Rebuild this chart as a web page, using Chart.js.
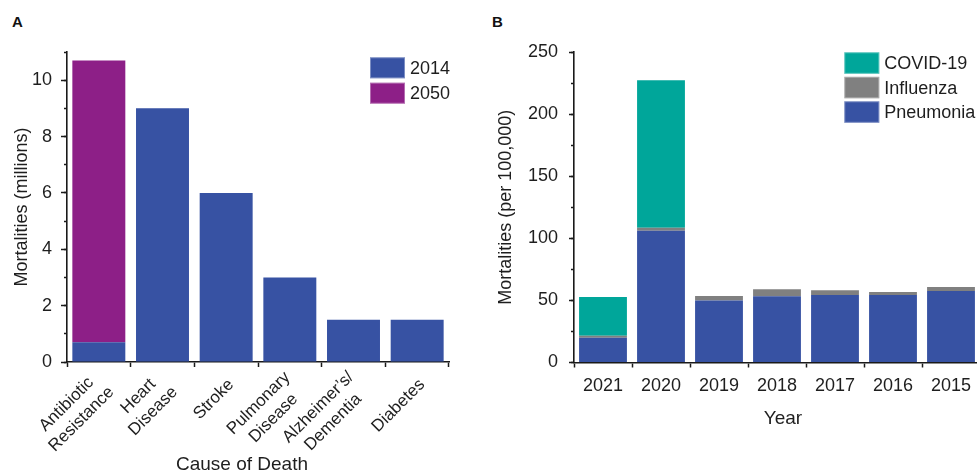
<!DOCTYPE html>
<html>
<head>
<meta charset="utf-8">
<script src="https://cdn.jsdelivr.net/npm/chart.js@4.4.1/dist/chart.umd.min.js"></script>
<style>
  html, body { margin: 0; padding: 0; background: #fff; }
  body { width: 977px; height: 475px; overflow: hidden; position: relative; font-family: "Liberation Sans", Arial, sans-serif; }
  .tag { position: absolute; font-weight: bold; font-size: 15px; line-height: 15px; color: #111; }
  canvas { position: absolute; top: 0; }
</style>
</head>
<body>
<div class="tag" style="left:12px;top:14px">A</div>
<div class="tag" style="left:492px;top:14px">B</div>
<canvas id="chartA" width="490" height="475" style="left:0"></canvas>
<canvas id="chartB" width="490" height="475" style="left:490px"></canvas>
<script>
// ---- Panel A: global deaths by cause (millions) ----
const causes = [["Antibiotic", "Resistance"], ["Heart", "Disease"], ["Stroke"], ["Pulmonary", "Disease"], ["Alzheimer’s/", "Dementia"], ["Diabetes"]];
const deaths2014 = [0.7, 9, 6, 3, 1.5, 1.5];
const deaths2050 = [10, null, null, null, null, null];
const yLabelsA = [0, 2, 4, 6, 8, 10];

// ---- Panel B: US mortality per 100,000 by year ----
const years = ["2021", "2020", "2019", "2018", "2017", "2016", "2015"];
const pneumonia = [20, 106, 50, 53.3, 54.4, 54.4, 57.6];
const influenza = [1.6, 2.5, 3.6, 5.7, 3.8, 2.4, 3.2];
const covid19 = [31.2, 118.7, null, null, null, null, null];
const yLabelsB = [0, 50, 100, 150, 200, 250];

const FONT = '"Liberation Sans", Arial, sans-serif';
const INK = '#1e1e1e';
const AXIS = '#1a1a1a';
const BLUE = '#3752a3', PURPLE = '#8d1f87', TEAL = '#00a69a', GREY = '#808080';

Chart.defaults.font.family = FONT;
Chart.defaults.color = INK;

// Legend with square swatches drawn inside the plot area
const boxLegend = {
  id: 'boxLegend',
  afterDraw(chart, args, o) {
    if (!o || !o.order) return;
    const ctx = chart.ctx;
    ctx.save();
    ctx.font = o.size + 'px ' + FONT;
    ctx.textBaseline = 'middle';
    ctx.textAlign = 'left';
    o.order.forEach((di, k) => {
      const ds = chart.data.datasets[di];
      const y = o.top + k * o.pitch;
      ctx.fillStyle = ds.backgroundColor;
      ctx.fillRect(o.left, y, o.boxW, o.boxH);
      ctx.strokeStyle = 'rgba(255,255,255,0.35)';
      ctx.lineWidth = 1;
      ctx.strokeRect(o.left + 0.5, y + 0.5, o.boxW - 1, o.boxH - 1);
      ctx.fillStyle = INK;
      ctx.fillText(ds.label, o.left + o.boxW + o.gap, y + o.boxH / 2 + 1);
    });
    ctx.restore();
  }
};

// Horizontal axis title placed relative to the plot centre
const xTitle = {
  id: 'xTitle',
  afterDraw(chart, args, o) {
    if (!o || !o.text) return;
    const ctx = chart.ctx, ca = chart.chartArea;
    ctx.save();
    ctx.font = o.size + 'px ' + FONT;
    ctx.fillStyle = INK;
    ctx.textAlign = 'center';
    ctx.textBaseline = 'middle';
    ctx.fillText(o.text, (ca.left + ca.right) / 2 + o.dx, o.y);
    ctx.restore();
  }
};

// Diagonal two-line category labels, lines centred on each other
const slantLabels = {
  id: 'slantLabels',
  afterDraw(chart, args, o) {
    if (!o || !o.size) return;
    const ctx = chart.ctx, xs = chart.scales.x;
    ctx.save();
    ctx.font = o.size + 'px ' + FONT;
    ctx.fillStyle = INK;
    ctx.textAlign = 'center';
    ctx.textBaseline = 'middle';
    chart.data.labels.forEach((lines, i) => {
      const px = xs.getPixelForTick(i);
      const w = Math.max(...lines.map(l => ctx.measureText(l).width));
      ctx.save();
      ctx.translate(px + o.dx, xs.top + o.dy);
      ctx.rotate(-Math.PI / 4);
      lines.forEach((l, j) => ctx.fillText(l, -w / 2, (j - (lines.length - 1) / 2) * o.lineHeight));
      ctx.restore();
    });
    ctx.restore();
  }
};

Chart.register(boxLegend, xTitle, slantLabels);

function axisGrid(len) {
  return { display: true, drawOnChartArea: false, drawTicks: true, tickLength: len, tickColor: AXIS, tickWidth: 1.5 };
}
const border = { display: true, color: AXIS, width: 1.6 };

// ---------- Chart A ----------
new Chart(document.getElementById('chartA'), {
  type: 'bar',
  data: {
    labels: causes,
    datasets: [
      { label: '2014', data: deaths2014, backgroundColor: BLUE, borderWidth: 0, barPercentage: 0.832, categoryPercentage: 1 },
      { label: '2050', data: deaths2050, backgroundColor: PURPLE, borderWidth: 0, barPercentage: 0.832, categoryPercentage: 1 }
    ]
  },
  options: {
    responsive: false,
    animation: false,
    layout: { padding: { left: 0, right: 41, top: 52, bottom: 0 } },
    plugins: {
      legend: { display: false },
      tooltip: { enabled: false },
      boxLegend: { order: [0, 1], left: 370, top: 57.3, boxW: 35, boxH: 21, pitch: 25.4, gap: 5, size: 18 },
      xTitle: { text: 'Cause of Death', size: 19, dx: -16, y: 465 },
      slantLabels: { size: 17, lineHeight: 21, dx: 5, dy: 20 }
    },
    scales: {
      x: {
        stacked: true,
        grid: axisGrid(5),
        border: border,
        ticks: { display: false },
        afterFit(s) { s.height = 113; }
      },
      y: {
        stacked: true, min: 0, max: 11, weight: 1,
        grid: axisGrid(6),
        border: border,
        ticks: { stepSize: 2, includeBounds: false, padding: 9, color: INK, font: { size: 18 },
                 callback: v => yLabelsA.includes(v) ? String(v) : '' },
        title: { display: true, text: 'Mortalities (millions)', color: INK, font: { size: 18, lineHeight: 1 }, padding: { top: 13, bottom: 0 } },
        afterFit(s) { s.width = 67; }
      },
      yMinor: {
        position: 'left', min: 0, max: 11, weight: 0,
        grid: axisGrid(3),
        border: { display: false },
        ticks: { display: false, stepSize: 1 },
        afterFit(s) { s.width = 0; }
      }
    }
  }
});

// ---------- Chart B ----------
new Chart(document.getElementById('chartB'), {
  type: 'bar',
  data: {
    labels: years,
    datasets: [
      { label: 'Pneumonia', data: pneumonia, backgroundColor: BLUE, borderWidth: 0, barPercentage: 0.825, categoryPercentage: 1 },
      { label: 'Influenza', data: influenza, backgroundColor: GREY, borderWidth: 0, barPercentage: 0.825, categoryPercentage: 1 },
      { label: 'COVID-19', data: covid19, backgroundColor: TEAL, borderWidth: 0, barPercentage: 0.825, categoryPercentage: 1 }
    ]
  },
  options: {
    responsive: false,
    animation: false,
    layout: { padding: { left: 0, right: 0, top: 52, bottom: 0 } },
    plugins: {
      legend: { display: false },
      tooltip: { enabled: false },
      boxLegend: { order: [2, 1, 0], left: 354.3, top: 52.3, boxW: 35, boxH: 21.5, pitch: 24.5, gap: 5, size: 18 },
      xTitle: { text: 'Year', size: 19, dx: 6, y: 418.3 }
    },
    scales: {
      x: {
        stacked: true,
        grid: axisGrid(5),
        border: border,
        ticks: { padding: 8, color: INK, font: { size: 18 }, maxRotation: 0 },
        afterFit(s) { s.height = 112.5; }
      },
      y: {
        stacked: true, min: 0, max: 250, weight: 1,
        grid: axisGrid(5),
        border: border,
        ticks: { stepSize: 50, padding: 11, color: INK, font: { size: 18 },
                 callback: v => yLabelsB.includes(v) ? String(v) : '' },
        title: { display: true, text: 'Mortalities (per 100,000)', color: INK, font: { size: 18, lineHeight: 1 }, padding: { top: 7, bottom: 0 } },
        afterFit(s) { s.width = 84; }
      },
      yMinor: {
        position: 'left', min: 0, max: 250, weight: 0,
        grid: axisGrid(3),
        border: { display: false },
        ticks: { display: false, stepSize: 25 },
        afterFit(s) { s.width = 0; }
      }
    }
  }
});
</script>
</body>
</html>
